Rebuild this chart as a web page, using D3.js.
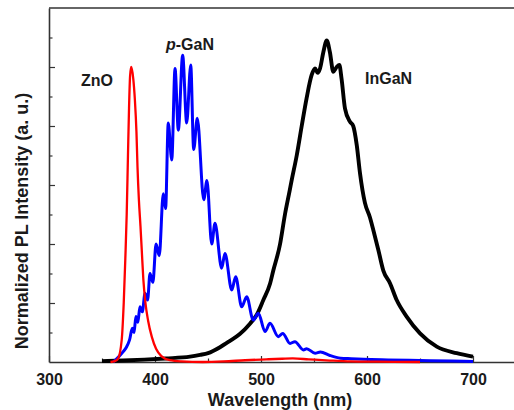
<!DOCTYPE html>
<html>
<head>
<meta charset="utf-8">
<script src="https://cdn.jsdelivr.net/npm/d3@7"></script>
<style>
  body { margin: 0; background: #fff; }
  svg { display: block; }
  text { font-family: "Liberation Sans", Arial, sans-serif; font-weight: bold; fill: #1a1a1a; }
</style>
</head>
<body>
<svg id="chart" width="514" height="410"></svg>
<script>
// ZnO (red)
const znoWl = [358, 362, 365, 368.6, 370.5, 372, 373.3, 374.5, 375.5, 376.5, 377.6, 379.5, 381, 382.5, 383.5, 384.8, 386.3, 387.5, 389, 391, 393.5, 397, 401, 406, 414, 425, 445, 465, 485, 505, 520, 530, 545, 565, 585, 610, 650]
const znoI = [0, 0.003, 0.01, 0.075, 0.2, 0.35, 0.5, 0.7, 0.86, 0.97, 1.0, 0.96, 0.89, 0.78, 0.66, 0.55, 0.46, 0.38, 0.28, 0.2, 0.14, 0.085, 0.045, 0.02, 0.006, 0.002, 0, 0.002, 0.006, 0.009, 0.011, 0.012, 0.009, 0.005, 0.002, 0.001, 0]

// p-GaN (blue)
const pganWl = [360.5, 365, 370, 373, 376, 378.6, 380.2, 382, 383.8, 385.8, 388, 390.6, 393, 395.3, 398, 401, 404, 407.8, 410, 412.5, 415.8, 418.9, 422, 426.1, 429.9, 433.7, 436.5, 439.9, 446, 449, 453.5, 456.6, 462.9, 466, 472.4, 476.1, 481.8, 486.5, 492.7, 497.5, 503.8, 508.5, 516.3, 520.5, 527.4, 532, 540, 543, 551, 556, 565, 575, 585, 597, 620, 650, 680, 700]
const pganI = [0, 0.015, 0.035, 0.05, 0.075, 0.114, 0.1, 0.154, 0.135, 0.187, 0.17, 0.233, 0.21, 0.3, 0.27, 0.4, 0.36, 0.57, 0.52, 0.81, 0.685, 0.995, 0.786, 1.04, 0.81, 1.007, 0.72, 0.826, 0.55, 0.615, 0.4, 0.47, 0.318, 0.368, 0.244, 0.289, 0.187, 0.221, 0.142, 0.165, 0.103, 0.131, 0.086, 0.097, 0.063, 0.069, 0.041, 0.045, 0.03, 0.034, 0.022, 0.013, 0.011, 0.009, 0.007, 0.005, 0.003, 0.002]

// InGaN (black)
const inganWl = [350, 370, 390, 410, 433, 442.5, 450, 461.3, 470, 480, 489.6, 496, 502.2, 508.5, 511.6, 518, 522.6, 527, 529, 533.7, 538.4, 543, 547.8, 551, 553.5, 555.7, 558.8, 562, 565, 568.2, 571.4, 573.9, 576, 579.2, 583.9, 587, 590.3, 593.4, 598, 602.8, 606, 610.7, 615.4, 621.7, 628, 637.4, 650, 665.8, 684.6, 700]
const inganI = [0.003, 0.005, 0.008, 0.012, 0.018, 0.024, 0.03, 0.05, 0.07, 0.095, 0.13, 0.16, 0.21, 0.265, 0.31, 0.4, 0.5, 0.58, 0.617, 0.7, 0.8, 0.894, 0.973, 0.995, 0.98, 0.995, 1.05, 1.09, 1.05, 0.984, 1.0, 1.007, 0.96, 0.86, 0.815, 0.8, 0.736, 0.64, 0.54, 0.49, 0.447, 0.38, 0.31, 0.267, 0.21, 0.154, 0.097, 0.052, 0.03, 0.018]

const xMajor = [300, 400, 500, 600, 700]
const xMinor = [350, 450, 550, 650]
const yMajor = [0.2, 0.4, 0.6, 0.8, 1.0]
const yMinor = [0.1, 0.3, 0.5, 0.7, 0.9, 1.1]

let svg = d3.select('#chart')

let x = d3.scaleLinear().domain([300, 750]).range([49, 526])
let y = d3.scaleLinear().domain([0, 1.2]).range([362, 8])

let axisColor = '#333'

// x axis, ticks point inward
let gx = svg.append('g').attr('transform', 'translate(0,362)')
gx.call(d3.axisBottom(x).tickValues(xMajor).tickSize(-6).tickSizeOuter(0).tickPadding(11.5))
gx.selectAll('text').style('font-size', '16px').attr('fill', '#1a1a1a')
gx.select('.domain').attr('stroke', axisColor).attr('stroke-width', 1.6)
gx.selectAll('.tick line').attr('stroke', axisColor).attr('stroke-width', 1.2)

let gxm = svg.append('g').attr('transform', 'translate(0,362)')
gxm.call(d3.axisBottom(x).tickValues(xMinor).tickSize(-3.5).tickFormat(''))
gxm.select('.domain').remove()
gxm.selectAll('.tick line').attr('stroke', axisColor).attr('stroke-width', 1.2)

// y axis, no labels
let gy = svg.append('g').attr('transform', 'translate(49,0)')
gy.call(d3.axisLeft(y).tickValues(yMajor).tickSize(-6).tickSizeOuter(0).tickFormat(''))
gy.select('.domain').attr('stroke', axisColor).attr('stroke-width', 1.6)
gy.selectAll('.tick line').attr('stroke', axisColor).attr('stroke-width', 1.2)

let gym = svg.append('g').attr('transform', 'translate(49,0)')
gym.call(d3.axisLeft(y).tickValues(yMinor).tickSize(-3.5).tickFormat(''))
gym.select('.domain').remove()
gym.selectAll('.tick line').attr('stroke', axisColor).attr('stroke-width', 1.2)

// top frame line
svg.append('line')
  .attr('x1', x(300)).attr('x2', x(750))
  .attr('y1', y(1.2)).attr('y2', y(1.2))
  .attr('stroke', axisColor).attr('stroke-width', 1.6)

let line = d3.line()
  .x(d => x(d[0]))
  .y(d => y(d[1]))
  .curve(d3.curveMonotoneX)

let series = [
  { wl: inganWl, val: inganI, color: '#000', width: 3.9 },
  { wl: pganWl, val: pganI, color: '#0000ff', width: 3 },
  { wl: znoWl, val: znoI, color: '#ff0000', width: 2.3 }
]

series.forEach(s => {
  svg.append('path')
    .datum(d3.zip(s.wl, s.val))
    .attr('fill', 'none')
    .attr('stroke', s.color)
    .attr('stroke-width', s.width)
    .attr('stroke-linejoin', 'round')
    .attr('d', line)
})

// labels
svg.append('text').attr('x', 81).attr('y', 86).style('font-size', '16px').text('ZnO')
svg.append('text').attr('x', 365).attr('y', 84).style('font-size', '16px').text('InGaN')
let pg = svg.append('text').attr('x', 166).attr('y', 50).style('font-size', '16px')
pg.append('tspan').style('font-style', 'italic').text('p')
pg.append('tspan').text('-GaN')

// axis titles
svg.append('text')
  .attr('x', 280).attr('y', 406)
  .attr('text-anchor', 'middle')
  .style('font-size', '18px')
  .text('Wavelength (nm)')

svg.append('text')
  .attr('transform', 'translate(28,221) rotate(-90)')
  .attr('text-anchor', 'middle')
  .style('font-size', '18px')
  .text('Normalized PL Intensity (a. u.)')
</script>
</body>
</html>
